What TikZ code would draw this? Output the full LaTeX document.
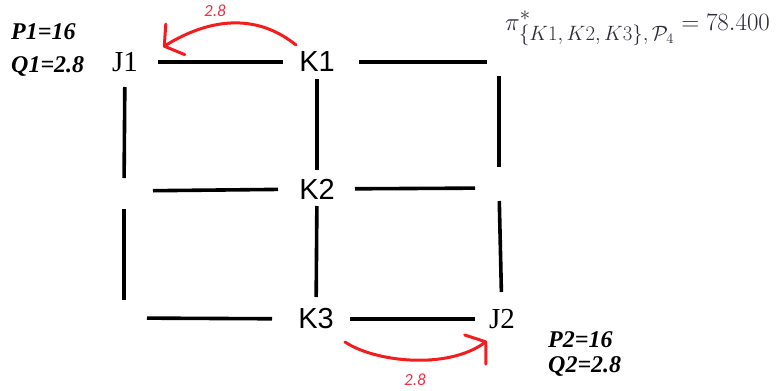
\documentclass[tikz,border=0pt]{standalone}
\usepackage{amsmath}
\usepackage[no-math]{fontspec}
\setmainfont{Liberation Serif}
\setsansfont{Liberation Sans}
\newfontfamily\calib{Carlito}
\usetikzlibrary{positioning,arrows.meta}
\definecolor{flowred}{HTML}{F41C1C}
\definecolor{labred}{HTML}{EE3048}
\definecolor{formula}{HTML}{2C2C38}
\DeclareMathSizes{24.88}{24.88}{20.74}{14.4}
\newcommand{\pq}[1]{{\bfseries\itshape #1}}

\begin{document}
\begin{tikzpicture}[x=1pt,y=-1pt,
  seg/.style={line width=3.6pt,black},
  hub/.style={font=\sffamily\fontsize{29}{30}\selectfont,inner sep=3pt},
  sink/.style={font=\fontsize{29}{30}\selectfont,inner sep=3pt},
  price/.style={anchor=base west,inner sep=0pt,font=\fontsize{24}{28}\selectfont},
  flow/.style={draw=flowred,line width=3pt,line cap=round,
    -{Straight Barb[length=13pt,width=36pt,round]}},
  amt/.style={text=labred,inner sep=0pt,font=\calib\itshape\fontsize{17}{18}\selectfont}]
\useasboundingbox (0,0) rectangle (782,391);

% junctions of the grid
\node[sink] (J1) at (125,62) {J1};
\node[hub] (K1) at (317,62) {K1};
\node[hub] (K2) at (317,189) {K2};
\node[hub] (K3) at (316,319) {K3};
\node[sink] (J2) at (502,319) {J2};
\coordinate (R1) at (499,62);
\coordinate (L2) at (124,191);
\coordinate (R2) at (499,188);
\coordinate (L3) at (124,318);

% horizontal pieces
\draw[seg,shorten <=33pt,shorten >=34pt] (J1.center) -- (K1.center);
\draw[seg,shorten <=42pt,shorten >=12pt] (K1.center) -- (R1);
\draw[seg,shorten <=29pt,shorten >=39pt] (L2) -- (K2.center);
\draw[seg,shorten <=38pt,shorten >=24pt] (K2.center) -- (R2);
\draw[seg,shorten <=23pt,shorten >=44pt] (L3) -- (K3.center);
\draw[seg,shorten <=34pt,shorten >=27pt] (K3.center) -- (J2.center);
% vertical pieces
\draw[seg,shorten <=25pt,shorten >=13pt] (J1.center) -- (L2);
\draw[seg,shorten <=18pt,shorten >=18pt] (L2) -- (L3);
\draw[seg,shorten <=17pt,shorten >=19pt] (K1.center) -- (K2.center);
\draw[seg,shorten <=17pt,shorten >=22pt] (K2.center) -- (K3.center);
\draw[seg,shorten <=14pt,shorten >=21pt] (R1) -- (R2);
\draw[seg,shorten <=13pt,shorten >=27pt] (R2) -- (J2.center);

% prices and quantities
\node[price] (P1) at (11,39) {\pq{P1=16}};
\node[price] (Q1) at (11,72) {\pq{Q1=2.8}};
\node[price] (P2) at (548,347) {\pq{P2=16}};
\node[price] (Q2) at (548,372) {\pq{Q2=2.8}};

\node[anchor=base west,inner sep=0pt,text=formula,font=\fontsize{24.88}{28}\selectfont] (pi) at (505,30)
  {$\pi^*_{\{K1,\,K2,\,K3\},\,\mathcal{P}_4} = 78.400$};

% flows
\coordinate (fa) at (296,45);
\coordinate (ta) at (163,47);
\coordinate (fb) at (345,342);
\coordinate (tb) at (487,341);
\draw[flow] (fa) .. controls (250,8) and (200,24) .. (ta);
\draw[flow] (fb) .. controls (375,362) and (447,370) .. (tb);
\node[amt] (w1) at (215,11) {2.8};
\node[amt] (w2) at (415,380) {2.8};
\end{tikzpicture}
\end{document}
